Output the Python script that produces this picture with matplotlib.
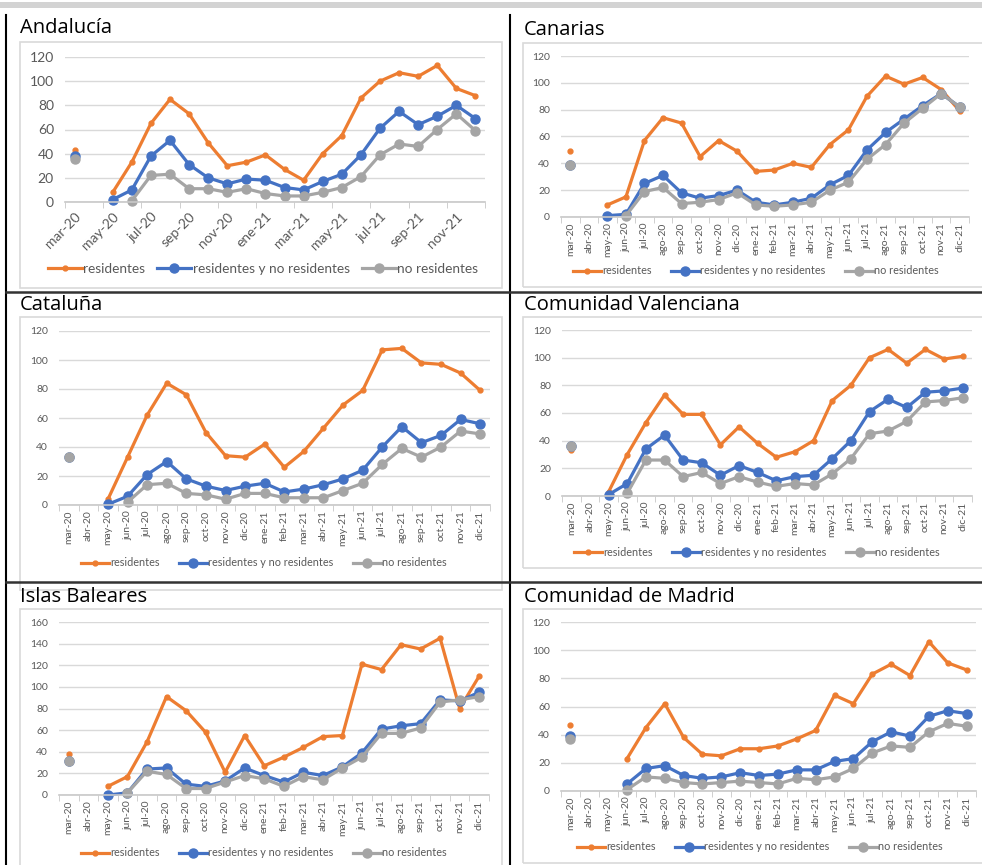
import numpy as np
import matplotlib.pyplot as plt
from matplotlib.patches import Rectangle
from matplotlib.lines import Line2D

nan = np.nan

months = ['mar-20', 'abr-20', 'may-20', 'jun-20', 'jul-20', 'ago-20', 'sep-20', 'oct-20',
          'nov-20', 'dic-20', 'ene-21', 'feb-21', 'mar-21', 'abr-21', 'may-21', 'jun-21',
          'jul-21', 'ago-21', 'sep-21', 'oct-21', 'nov-21', 'dic-21']
series_names = ['residentes', 'residentes y no residentes', 'no residentes']

# Andalucía
and_res = [43, nan, 8, 33, 65, 85, 73, 49, 30, 33, 39, 27, 18, 40, 55, 86, 100, 107, 104, 113, 94, 88]
and_mix = [38, nan, 2, 10, 38, 51, 31, 20, 15, 19, 18, 12, 10, 17, 23, 39, 61, 75, 64, 71, 80, 69]
and_nor = [36, nan, nan, 1, 22, 23, 11, 11, 8, 11, 7, 5, 5, 8, 12, 21, 39, 48, 46, 60, 73, 59]

# Canarias
can_res = [49, nan, 9, 15, 57, 74, 70, 45, 57, 49, 34, 35, 40, 37, 54, 65, 90, 105, 99, 104, 95, 79]
can_mix = [39, nan, 1, 2, 25, 31, 18, 14, 16, 20, 11, 9, 11, 14, 24, 31, 50, 63, 73, 83, 92, 82]
can_nor = [39, nan, nan, 1, 19, 22, 10, 11, 13, 18, 9, 8, 9, 11, 20, 26, 43, 54, 70, 81, 92, 82]

# Cataluña
cat_res = [33, nan, 4, 33, 62, 84, 76, 50, 34, 33, 42, 26, 37, 53, 69, 79, 107, 108, 98, 97, 91, 79]
cat_mix = [33, nan, 0.5, 6, 21, 30, 18, 13, 10, 13, 15, 9, 11, 14, 18, 24, 40, 54, 43, 48, 59, 56]
cat_nor = [33, nan, nan, 2, 14, 15, 8, 7, 4, 8, 8, 5, 5, 5, 10, 15, 28, 39, 33, 40, 51, 49]

# Comunidad Valenciana
val_res = [33, nan, 3, 30, 53, 73, 59, 59, 37, 50, 38, 28, 32, 40, 69, 80, 100, 106, 96, 106, 99, 101]
val_mix = [36, nan, 1, 9, 34, 44, 26, 24, 15, 22, 17, 11, 14, 15, 27, 40, 61, 70, 64, 75, 76, 78]
val_nor = [36, nan, nan, 2, 26, 26, 14, 17, 9, 14, 10, 7, 9, 8, 16, 27, 45, 47, 54, 68, 69, 71]

# Islas Baleares
bal_res = [38, nan, 8, 17, 49, 91, 78, 58, 21, 55, 27, 35, 44, 54, 55, 121, 116, 139, 135, 145, 80, 110]
bal_mix = [31, nan, 0, 2, 24, 25, 10, 8, 13, 25, 18, 12, 21, 18, 26, 39, 61, 64, 66, 88, 87, 95]
bal_nor = [31, nan, nan, 2, 22, 19, 6, 6, 12, 18, 15, 8, 17, 14, 25, 35, 57, 57, 62, 86, 88, 91]

# Comunidad de Madrid
mad_res = [47, nan, nan, 23, 45, 62, 38, 26, 25, 30, 30, 32, 37, 43, 68, 62, 83, 90, 82, 106, 91, 86]
mad_mix = [39, nan, nan, 5, 16, 18, 11, 9, 10, 13, 11, 12, 15, 15, 21, 23, 35, 42, 39, 53, 57, 55]
mad_nor = [37, nan, nan, 1, 10, 9, 6, 5, 6, 7, 6, 5, 9, 8, 10, 16, 27, 32, 31, 42, 48, 46]

W, H = 982, 865
colors = ['#ED7D31', '#4472C4', '#A5A5A5']
msizes = [3.5, 6.5, 6.5]
plt.rcParams['font.family'] = ['Lato', 'DejaVu Sans']

fig = plt.figure(figsize=(W / 100, H / 100), dpi=100)
fig.patch.set_facecolor('white')


def fx(x):
    return x / W


def fy(y):
    return 1 - y / H


# page decorations: gray band on top, table borders
fig.add_artist(Rectangle((0, fy(7.5)), 1, 5.5 / H, transform=fig.transFigure,
                         facecolor='#d3d3d3', edgecolor='none'))
for xx in (6, 510):
    fig.add_artist(Line2D([fx(xx), fx(xx)], [fy(15), fy(865)], transform=fig.transFigure,
                          color='black', lw=1.5))
for yy in (291.5, 581.5):
    fig.add_artist(Line2D([fx(6), 1], [fy(yy), fy(yy)], transform=fig.transFigure,
                          color='#333333', lw=1.8))

panels = [
    # title, data, title pos, box (x0, y0, x1, y1), axes (x0, x1, ytop, ybot), ymax, legend center, big
    ('Andalucía', (and_res, and_mix, and_nor), (20, 28), (20, 42, 502, 288),
     (65, 485, 57, 202), 120, (263, 269), True),
    ('Canarias', (can_res, can_mix, can_nor), (524, 30), (523, 43, 990, 287),
     (561, 969, 56, 217), 120, (756, 271), False),
    ('Cataluña', (cat_res, cat_mix, cat_nor), (20, 305), (20, 317, 502, 590),
     (59, 490, 331, 505), 120, (264, 563), False),
    ('Comunidad Valenciana', (val_res, val_mix, val_nor), (524, 305), (523, 317, 990, 568),
     (562, 972, 330, 496), 120, (757, 552), False),
    ('Islas Baleares', (bal_res, bal_mix, bal_nor), (20, 597), (20, 609, 502, 880),
     (59, 489, 622, 795), 160, (264, 853), False),
    ('Comunidad de Madrid', (mad_res, mad_mix, mad_nor), (524, 597), (523, 609, 990, 863),
     (561, 976, 622, 791), 120, (760, 847), False),
]

x = np.arange(len(months))

for title, data, tpos, box, apos, ymax, lpos, big in panels:
    fig.text(fx(tpos[0]), fy(tpos[1]), title, fontsize=14.5, color='black',
             ha='left', va='center', family=['Open Sans', 'DejaVu Sans'])
    bx0, by0, bx1, by1 = box
    fig.add_artist(Rectangle((fx(bx0), fy(by1)), (bx1 - bx0) / W, (by1 - by0) / H,
                             transform=fig.transFigure, facecolor='none',
                             edgecolor='#d9d9d9', lw=1.2))
    x0, x1, yt, yb = apos
    ax = fig.add_axes([fx(x0), fy(yb), (x1 - x0) / W, (yb - yt) / H])
    ax.set_facecolor('none')
    for vals, name, c, ms in zip(data, series_names, colors, msizes):
        ax.plot(x, np.array(vals, dtype=float), color=c, lw=2.3, marker='o', ms=ms,
                label=name, clip_on=False)
    ax.set_xlim(-0.5, len(months) - 0.5)
    ax.set_ylim(0, ymax)
    ax.set_yticks(np.arange(0, ymax + 1, 20))
    ax.grid(axis='y', color='#d9d9d9', lw=1)
    ax.set_axisbelow(True)
    for s in ('top', 'right', 'left'):
        ax.spines[s].set_visible(False)
    ax.spines['bottom'].set_color('#c8c8c8')
    ax.spines['bottom'].set_linewidth(1.2)
    fs = 10 if big else 7.5
    ax.tick_params(axis='y', length=0, labelsize=fs, labelcolor='#595959', pad=8)
    if big:
        ax.set_xticks(x[::2])
        ax.set_xticklabels(months[::2], rotation=45, ha='right', rotation_mode='anchor')
        ax.set_xticks(np.arange(-0.5, len(months), 2), minor=True)
    else:
        ax.set_xticks(x)
        ax.set_xticklabels(months, rotation=90)
        ax.set_xticks(np.arange(-0.5, len(months), 1), minor=True)
    ax.tick_params(axis='x', which='major', length=0, labelsize=fs, labelcolor='#595959',
                   pad=6 if big else 4)
    ax.tick_params(axis='x', which='minor', length=4, color='#c8c8c8')
    fig.legend(*ax.get_legend_handles_labels(), loc='center', ncol=3, numpoints=1,
               bbox_to_anchor=(fx(lpos[0]), fy(lpos[1])), bbox_transform=fig.transFigure,
               frameon=False, fontsize=9.8 if big else 7.8, labelcolor='#595959',
               handlelength=2.5 if big else 2.6, handletextpad=0.1,
               columnspacing=0.9 if big else 1.8)

fig.savefig('out.png', dpi=100)
